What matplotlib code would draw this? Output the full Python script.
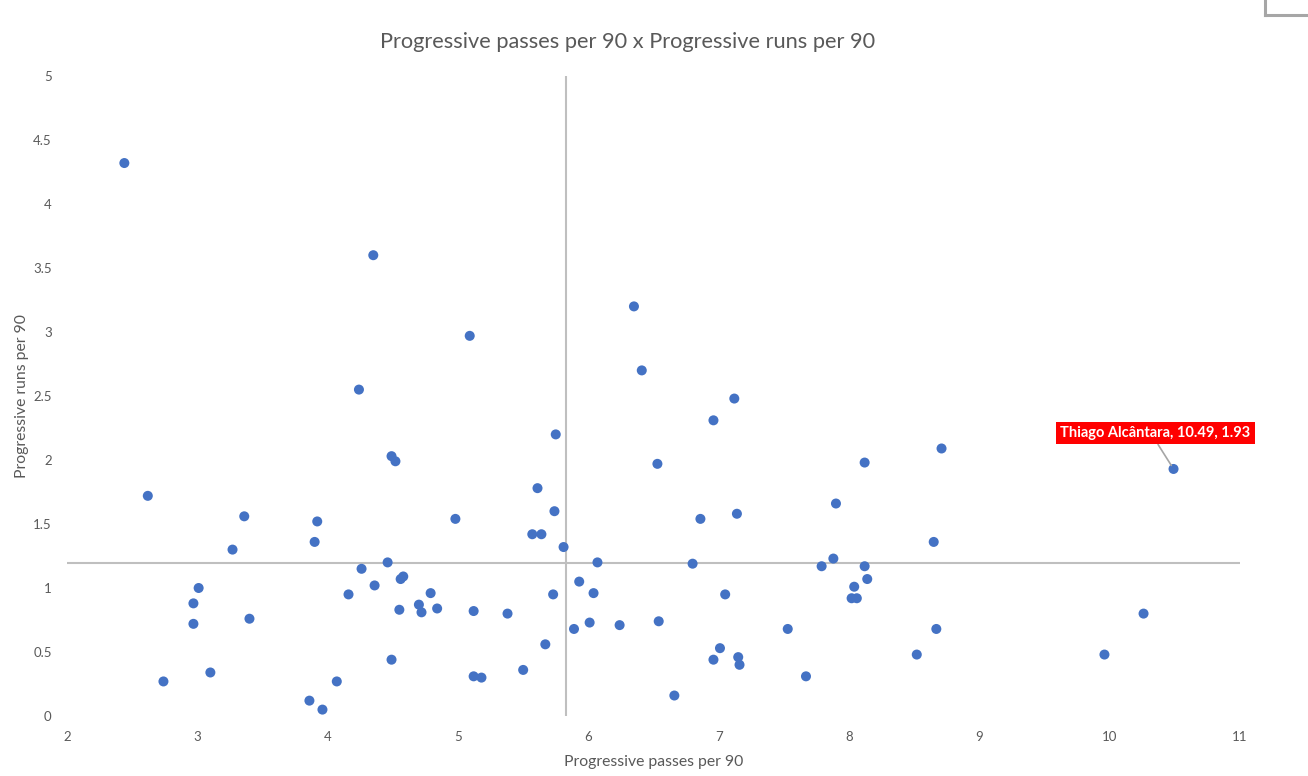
import matplotlib.pyplot as plt
from matplotlib.lines import Line2D

plt.rcParams['font.family'] = ['Lato', 'DejaVu Sans']

# progressive passes per 90 (x) and progressive runs per 90 (y)
passes = [2.44, 2.62, 4.35, 6.35, 5.09, 6.41, 4.24, 7.12, 6.96, 5.75,
          4.49, 4.52, 6.53, 8.12, 8.71, 10.49, 5.61, 7.90, 5.74, 3.36,
          7.14, 3.92, 4.98, 6.86, 3.90, 5.57, 5.64, 8.65, 3.27, 5.81,
          4.46, 6.07, 6.80, 7.88, 7.79, 8.12, 4.26, 8.14, 4.58, 4.56,
          5.93, 8.04, 4.36, 3.01, 6.04, 4.79, 4.16, 5.73, 7.05, 8.02,
          8.06, 2.97, 4.55, 4.84, 5.12, 4.72, 4.70, 5.38, 10.26, 3.40,
          2.97, 6.01, 6.24, 6.54, 5.89, 7.53, 8.67, 5.67, 7.01, 4.49,
          6.96, 7.15, 7.16, 8.52, 9.96, 3.10, 5.50, 5.12, 5.18, 7.67,
          2.74, 4.07, 3.86, 3.96, 6.66]
runs = [4.32, 1.72, 3.60, 3.20, 2.97, 2.70, 2.55, 2.48, 2.31, 2.20,
        2.03, 1.99, 1.97, 1.98, 2.09, 1.93, 1.78, 1.66, 1.60, 1.56,
        1.58, 1.52, 1.54, 1.54, 1.36, 1.42, 1.42, 1.36, 1.30, 1.32,
        1.20, 1.20, 1.19, 1.23, 1.17, 1.17, 1.15, 1.07, 1.09, 1.07,
        1.05, 1.01, 1.02, 1.00, 0.96, 0.96, 0.95, 0.95, 0.95, 0.92,
        0.92, 0.88, 0.83, 0.84, 0.82, 0.81, 0.87, 0.80, 0.80, 0.76,
        0.72, 0.73, 0.71, 0.74, 0.68, 0.68, 0.68, 0.56, 0.53, 0.44,
        0.44, 0.46, 0.40, 0.48, 0.48, 0.34, 0.36, 0.31, 0.30, 0.31,
        0.27, 0.27, 0.12, 0.05, 0.16]

avg_passes = 5.83
avg_runs = 1.195

label_name = "Thiago Alcântara"
label_x, label_y = 10.49, 1.93

x_ticks = [2, 3, 4, 5, 6, 7, 8, 9, 10, 11]
y_ticks = [0, 0.5, 1, 1.5, 2, 2.5, 3, 3.5, 4, 4.5, 5]

text_color = "#595959"
line_color = "#BFBFBF"

fig = plt.figure(figsize=(13.08, 7.76), dpi=100)
ax = fig.add_axes([67 / 1308, 1 - 716 / 776, (1240 - 67) / 1308, (716 - 76) / 776])

# average lines
ax.plot([avg_passes, avg_passes], [0, 5], color=line_color, lw=1.5, zorder=1)
ax.plot([2, 11], [avg_runs, avg_runs], color=line_color, lw=1.5, zorder=1)

ax.scatter(passes, runs, s=52, color="#4472C4", edgecolors="none", zorder=3)

ax.set_xlim(2, 11)
ax.set_ylim(0, 5)
ax.set_xticks(x_ticks)
ax.set_xticklabels([str(t) for t in x_ticks])
ax.set_yticks(y_ticks)
ax.set_yticklabels([f"{t:g}" for t in y_ticks])
ax.tick_params(length=0, colors=text_color, labelsize=9.5)
ax.tick_params(axis='x', pad=11)
ax.tick_params(axis='y', pad=11)
for s in ax.spines.values():
    s.set_visible(False)

ax.set_xlabel("Progressive passes per 90", color=text_color, fontsize=11.3)
ax.set_ylabel("Progressive runs per 90", color=text_color, fontsize=11.3)
ax.xaxis.set_label_coords(0.5, -(762 - 716) / 640, transform=ax.transAxes)
ax.yaxis.set_label_coords(-(67 - 22) / 1173, 0.5, transform=ax.transAxes)
ax.xaxis.label.set_va('center')
ax.yaxis.label.set_va('center')
fig.text(0.48, 1 - 42 / 776, "Progressive passes per 90 x Progressive runs per 90",
         ha='center', va='center', color=text_color, fontsize=15.7)

# data label for the highlighted player
ax.annotate(f"{label_name}, {label_x}, {label_y}",
            xy=(label_x, label_y), xytext=(10.35, 2.21),
            ha='center', va='center', color='white', fontsize=10.5, fontweight='bold',
            bbox=dict(boxstyle='square,pad=0.3', fc='#FF0000', ec='none'),
            arrowprops=dict(arrowstyle='-', color='#A6A6A6', lw=1.2,
                            relpos=(0.5, 0), shrinkA=0, shrinkB=3),
            zorder=4)

# chart frame fragment in the top right corner
fig.add_artist(Line2D([1265 / 1308, 1265 / 1308], [1, 1 - 15 / 776],
                      transform=fig.transFigure, color='#A6A6A6', lw=2.2))
fig.add_artist(Line2D([1265 / 1308, 1], [1 - 15 / 776, 1 - 15 / 776],
                      transform=fig.transFigure, color='#A6A6A6', lw=2.2))

fig.savefig("out.png", dpi=100, facecolor='white')
